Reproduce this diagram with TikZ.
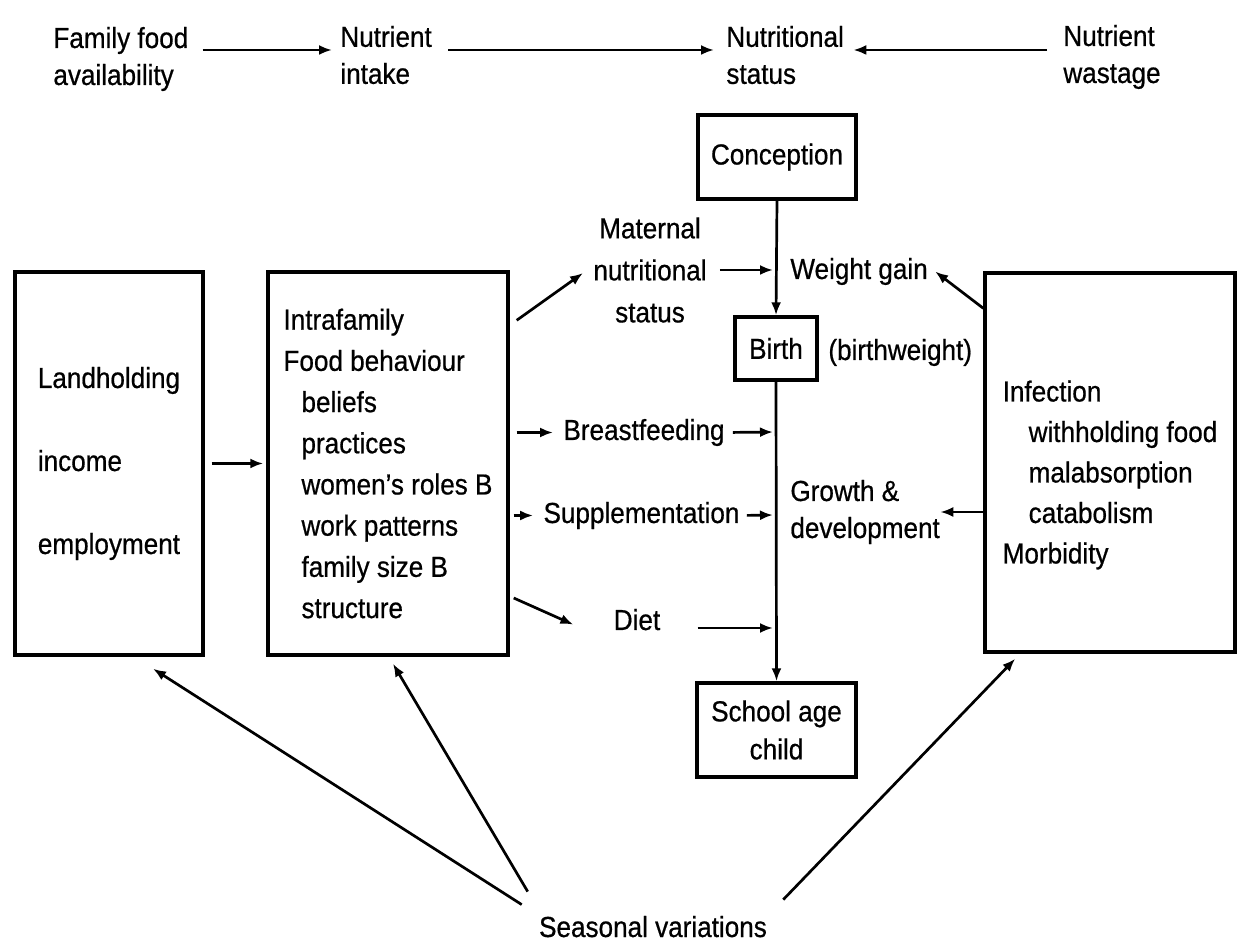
\documentclass[tikz,border=0pt]{standalone}
\usepackage{fontspec}
\setmainfont{Liberation Sans}[FakeStretch=0.9,FakeBold=0.6]
\usetikzlibrary{arrows.meta}

\begin{document}
\begin{tikzpicture}[x=0.5pt,y=-0.5pt,
    every node/.style={inner sep=0pt,font=\fontsize{14.5}{21}\selectfont},
    txt/.style={align=left},
    bx/.style={draw,line width=1.7pt,align=left},
    arr/.style={-{Latex[length=6.5pt,width=5pt]},line width=1.35pt}]
  \useasboundingbox (0,0) rectangle (1237,945);
  % top row
  \node[txt,anchor=west,font=\fontsize{14.5}{18.5}\selectfont] (food) at (53,59) {Family food\\availability};
  \node[txt,anchor=west,font=\fontsize{14.5}{18.5}\selectfont] (ni) at (340,55) {Nutrient\\intake};
  \node[txt,anchor=west,font=\fontsize{14.5}{18.5}\selectfont] (ns) at (726,55) {Nutritional\\status};
  \node[txt,anchor=west,font=\fontsize{14.5}{18.5}\selectfont] (nw) at (1063,57) {Nutrient\\wastage};
  \draw[arr] ([shift={(14,-9)}]food.east) -- ([shift={(-8,-5)}]ni.west);
  \draw[arr] ([shift={(16,-5)}]ni.east) -- ([shift={(-12,-5)}]ns.west);
  \draw[arr] ([shift={(-16,-7)}]nw.west) -- ([shift={(9,-5)}]ns.east);

  % boxes
  \node[bx,minimum width=94pt,minimum height=191.5pt] (land) at (109,463.5)
    {Landholding\\[20.5pt]income\\[20.5pt]employment};
  \node[bx,minimum width=120pt,minimum height=191.5pt,font=\fontsize{14.5}{20.6}\selectfont] (intra) at (388,463.5)
    {Intrafamily\\Food behaviour\\\hspace*{9pt}beliefs\\\hspace*{9pt}practices\\
     \hspace*{9pt}women's roles B\\\hspace*{9pt}work patterns\\\hspace*{9pt}family size B\\\hspace*{9pt}structure};
  \node[bx,minimum width=125pt,minimum height=189.5pt,font=\fontsize{14.5}{20.25}\selectfont] (infec) at (1110,462.5)
    {\rule{0pt}{23pt}Infection\\\hspace*{13pt}withholding food\\\hspace*{13pt}malabsorption\\
     \hspace*{13pt}catabolism\\Morbidity};
  \node[bx,minimum width=79pt,minimum height=42pt] (concep) at (777,157) {Conception};
  \node[bx,minimum width=41pt,minimum height=31.5pt] (birth) at (776,348.5) {Birth};
  \node[bx,align=center,minimum width=79.5pt,minimum height=47pt,font=\fontsize{14.5}{19}\selectfont] (school) at (776.5,730)
    {School age\\child};

  % labels
  \node[anchor=base west] (bw) at (828,360) {(birthweight)};
  \node[align=center] (mat) at (650,270) {Maternal\\nutritional\\status};
  \node[anchor=base west] (wg) at (790,279) {Weight gain};
  \node[anchor=base] (bf) at (644,440) {Breastfeeding};
  \node[anchor=base] (sup) at (641.5,523) {Supplementation};
  \node[anchor=base] (diet) at (637,630) {Diet};
  \node[txt,anchor=west,font=\fontsize{14.5}{18.5}\selectfont] (grow) at (790,512) {Growth \&\\development};
  \node[anchor=base] (seas) at (653,937) {Seasonal variations};

  % points on the time line
  \coordinate (jmat) at (776,270);
  \coordinate (jbf) at (776,432);
  \coordinate (jsup) at (776,515);
  \coordinate (jdiet) at (776,628);

  \draw[arr] (concep.south) -- (birth.north);
  \draw[arr] (birth.south) -- (school.north);
  \draw[arr,shorten <=3.5pt,shorten >=1.5pt] (land.east) -- (intra.west);
  \draw[arr] ([shift={(7,50)}]intra.north east) -- ([shift={(-10,3)}]mat.west);
  \draw[arr,shorten <=6.5pt,shorten >=1.5pt] (mat.east) -- (jmat);
  \draw[arr] ([shift={(0,37)}]infec.north west) -- ([shift={(7,0)}]wg.east);
  \draw[arr,shorten <=3.5pt,shorten >=5pt] (intra.east |- bf.west) -- (bf.west);
  \draw[arr,shorten <=4pt,shorten >=1.5pt] (bf.east) -- (jbf);
  \draw[arr,shorten <=2pt,shorten >=5pt] (intra.east |- sup.west) -- (sup.west);
  \draw[arr,shorten <=3.5pt,shorten >=1.5pt] (sup.east) -- (jsup);
  \draw[arr] ([shift={(4,134.5)}]intra.east) -- ([shift={(-40,5)}]diet.west);
  \draw[arr,shorten <=18.5pt,shorten >=1.5pt] (diet.east |- jdiet) -- (jdiet);
  \draw[arr] (infec.west |- grow.east) -- (grow.east);
  %\draw[arr] (seas) -- (school);
  \draw[arr] ([shift={(-17,-11)}]seas.north west) -- ([shift={(44,12)}]land.south);
  \draw[arr] ([shift={(-11,-24)}]seas.north west) -- ([shift={(5,7)}]intra.south);
  \draw[arr] ([shift={(16,-16)}]seas.north east) -- ([shift={(32,5)}]infec.south west);
\end{tikzpicture}
\end{document}
